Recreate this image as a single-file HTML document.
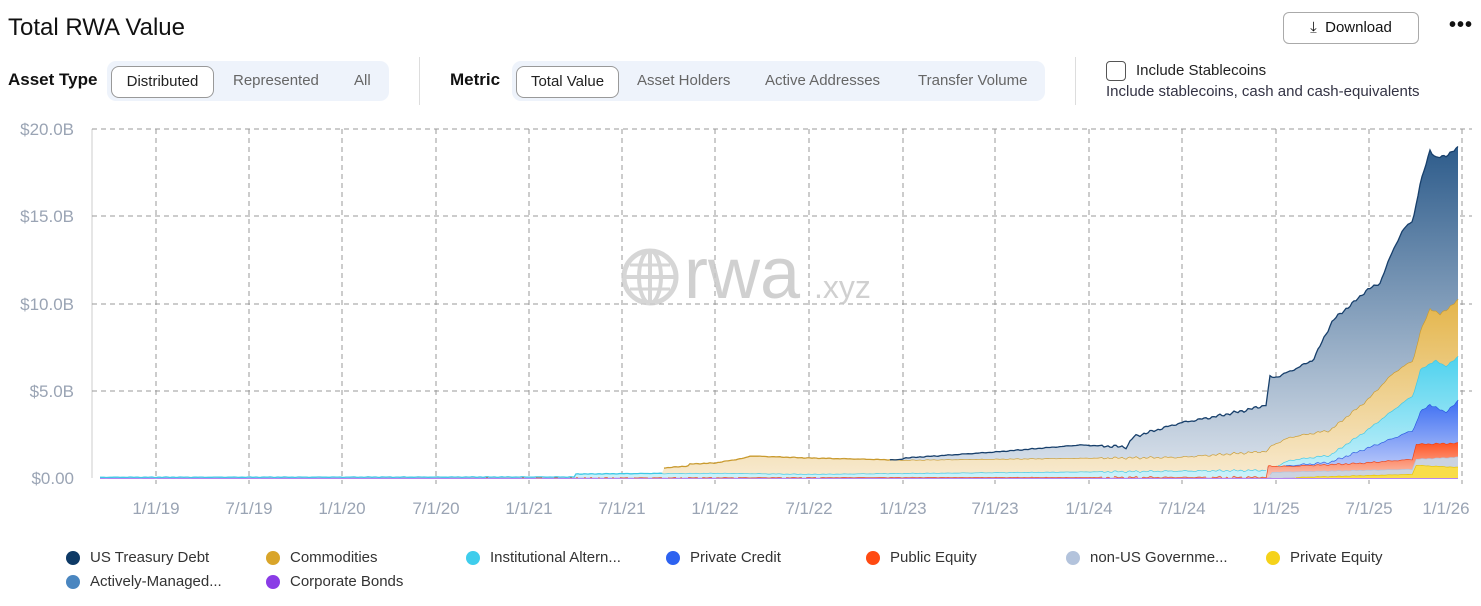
<!DOCTYPE html>
<html><head><meta charset="utf-8"><style>
body{margin:0;width:1481px;height:606px;background:#fff;font-family:"Liberation Sans",sans-serif;overflow:hidden;position:relative;color:#111}
.a{position:absolute;white-space:nowrap}
.seg{position:absolute;background:#eef3fb;border-radius:9px;height:40px}
.btn{position:absolute;font-size:15px;color:#666;top:11px}
.act{position:absolute;background:#fff;border:1px solid #999;border-radius:8px;height:30px;top:5px;font-size:15px;color:#222;text-align:center;line-height:30px}
.lg{position:absolute;font-size:15px;color:#333}
.lg i{position:absolute;left:-24px;top:2px;width:14px;height:14px;border-radius:50%}
</style></head><body>
<div class="a" style="left:8px;top:14px;font-size:24px;color:#111">Total RWA Value</div>
<div class="a" style="left:8px;top:70px;font-size:17px;font-weight:bold">Asset Type</div>
<div class="seg" style="left:107px;top:61px;width:282px"></div>
<div class="act" style="left:111px;top:66px;width:101px">Distributed</div>
<div class="btn" style="left:233px;top:72px">Represented</div>
<div class="btn" style="left:354px;top:72px">All</div>
<div class="a" style="left:419px;top:57px;width:1px;height:48px;background:#ddd"></div>
<div class="a" style="left:450px;top:70px;font-size:17px;font-weight:bold">Metric</div>
<div class="seg" style="left:512px;top:61px;width:533px"></div>
<div class="act" style="left:516px;top:66px;width:101px">Total Value</div>
<div class="btn" style="left:637px;top:72px">Asset Holders</div>
<div class="btn" style="left:765px;top:72px">Active Addresses</div>
<div class="btn" style="left:918px;top:72px">Transfer Volume</div>
<div class="a" style="left:1075px;top:57px;width:1px;height:48px;background:#ddd"></div>
<div class="a" style="left:1106px;top:61px;width:18px;height:18px;border:1.5px solid #555;border-radius:4px"></div>
<div class="a" style="left:1136px;top:62px;font-size:15px;color:#222">Include Stablecoins</div>
<div class="a" style="left:1106px;top:83px;font-size:15px;color:#334">Include stablecoins, cash and cash-equivalents</div>
<div class="a" style="left:1283px;top:12px;width:134px;height:30px;border:1px solid #aaa;border-radius:6px;font-size:15px;line-height:30px;text-align:center">⤓&nbsp; Download</div>
<div class="a" style="left:1449px;top:14px;font-size:20px;font-weight:bold;letter-spacing:1px">•••</div>

<svg class="a" style="left:0;top:0" width="1481" height="606" id="ch">
<defs>
<linearGradient id="gT" gradientUnits="userSpaceOnUse" x1="0" y1="150" x2="0" y2="478"><stop offset="0" stop-color="#2f5d8c"/><stop offset="1" stop-color="#dde4ed"/></linearGradient>
<linearGradient id="gC" gradientUnits="userSpaceOnUse" x1="0" y1="300" x2="0" y2="478"><stop offset="0" stop-color="#e4b54a"/><stop offset="1" stop-color="#f8ead0"/></linearGradient>
<linearGradient id="gI" gradientUnits="userSpaceOnUse" x1="0" y1="357" x2="0" y2="478"><stop offset="0" stop-color="#4fd2ee"/><stop offset="1" stop-color="#cdf2fa"/></linearGradient>
<linearGradient id="gP" gradientUnits="userSpaceOnUse" x1="0" y1="400" x2="0" y2="478"><stop offset="0" stop-color="#3d6ef2"/><stop offset="1" stop-color="#ccd6fb"/></linearGradient>
<linearGradient id="gR" gradientUnits="userSpaceOnUse" x1="0" y1="443" x2="0" y2="478"><stop offset="0" stop-color="#ff5526"/><stop offset="1" stop-color="#fac9b8"/></linearGradient>
</defs>
<g font-size="17" fill="#9aa4b4" text-anchor="end">
<text x="74" y="135">$20.0B</text><text x="74" y="222">$15.0B</text><text x="74" y="310">$10.0B</text><text x="74" y="397">$5.0B</text><text x="74" y="484">$0.00</text>
</g>
<g font-size="17" fill="#9aa4b4" text-anchor="middle">
<text x="156" y="514">1/1/19</text><text x="249" y="514">7/1/19</text><text x="342" y="514">1/1/20</text><text x="436" y="514">7/1/20</text><text x="529" y="514">1/1/21</text><text x="622" y="514">7/1/21</text><text x="715" y="514">1/1/22</text><text x="809" y="514">7/1/22</text><text x="903" y="514">1/1/23</text><text x="995" y="514">7/1/23</text><text x="1089" y="514">1/1/24</text><text x="1182" y="514">7/1/24</text><text x="1276" y="514">1/1/25</text><text x="1369" y="514">7/1/25</text><text x="1446" y="514">1/1/26</text>
</g>
<line x1="92" y1="129" x2="92" y2="478" stroke="#ccc"/>
<g id="grid" stroke="#999" stroke-dasharray="5,4" stroke-width="1"></g>
<g id="areas"></g>
<g opacity="0.85">
<circle cx="650" cy="277" r="26" fill="none" stroke="#cfcfcf" stroke-width="5"/>
<ellipse cx="650" cy="277" rx="11" ry="26" fill="none" stroke="#cfcfcf" stroke-width="4"/>
<line x1="650" y1="251" x2="650" y2="303" stroke="#cfcfcf" stroke-width="4"/>
<line x1="624" y1="277" x2="676" y2="277" stroke="#cfcfcf" stroke-width="4"/>
<line x1="630" y1="265" x2="670" y2="265" stroke="#cfcfcf" stroke-width="3"/><line x1="630" y1="289" x2="670" y2="289" stroke="#cfcfcf" stroke-width="3"/>
<text x="684" y="298" font-size="72" fill="#c8c8c8">rwa</text><text x="814" y="298" font-size="32" fill="#c8c8c8">.xyz</text>
</g>
</svg>
<div class="lg" style="left:90px;top:549px"><i style="background:#0e3a66"></i>US Treasury Debt</div>
<div class="lg" style="left:290px;top:549px"><i style="background:#d9a52a"></i>Commodities</div>
<div class="lg" style="left:490px;top:549px"><i style="background:#3fcdec"></i>Institutional Altern...</div>
<div class="lg" style="left:690px;top:549px"><i style="background:#2d62f0"></i>Private Credit</div>
<div class="lg" style="left:890px;top:549px"><i style="background:#ff4a12"></i>Public Equity</div>
<div class="lg" style="left:1090px;top:549px"><i style="background:#b3c3dc"></i>non-US Governme...</div>
<div class="lg" style="left:1290px;top:549px"><i style="background:#f5d21a"></i>Private Equity</div>
<div class="lg" style="left:90px;top:573px"><i style="background:#4a86c0"></i>Actively-Managed...</div>
<div class="lg" style="left:290px;top:573px"><i style="background:#8a3ce6"></i>Corporate Bonds</div>
<script>
var NS="http://www.w3.org/2000/svg";
function el(t,a,p){var e=document.createElementNS(NS,t);for(var k in a)e.setAttribute(k,a[k]);p.appendChild(e);return e;}
var g=document.getElementById("grid");
[129,216,304,391].forEach(function(y){el("line",{x1:92,y1:y,x2:1472,y2:y},g);});
[156,249,342,436,529,622,715,809,903,995,1089,1182,1276,1369,1462].forEach(function(x){el("line",{x1:x,y1:129,x2:x,y2:484},g);});
function interp(pts,x){if(x<=pts[0][0])return pts[0][1];for(var i=1;i<pts.length;i++){if(x<=pts[i][0]){var a=pts[i-1],b=pts[i];return a[1]+(b[1]-a[1])*(x-a[0])/(b[0]-a[0]||1);}}return pts[pts.length-1][1];}
var X=[];for(var x=100;x<=1458;x+=2)X.push(x);
function noise(x,amp){return amp*(Math.sin(x*0.9)*0.5+Math.sin(x*2.3)*0.3+Math.sin(x*0.37)*0.4);}
var S=[
 {p:[[100,478],[1458,478]],f:"#8a3ce6",s:"#8a3ce6",n:0,always:1},
 {p:[[100,478],[1290,478],[1300,477],[1413,474],[1415,465],[1458,467]],f:"#f9dd4a",s:"#e6c200",n:0.3},
 {p:[[100,478],[1268,478],[1272,472],[1413,469],[1415,459],[1458,457]],f:"#cbd3e0",s:"#b3c3dc",n:0.4},
 {p:[[100,478],[1266,477],[1268,466],[1290,466],[1360,463],[1413,459],[1415,444],[1458,443]],f:"url(#gR)",s:"#f04010",n:0.8},
 {p:[[100,478],[1266,477],[1270,467],[1330,462],[1367,448],[1393,438],[1413,430],[1420,412],[1430,404],[1445,412],[1458,401]],f:"url(#gP)",s:"#2855e0",n:1.2},
 {p:[[100,477.3],[574,477],[576,474],[715,473],[810,474],[1267,470],[1290,460],[1330,455],[1367,430],[1393,410],[1413,395],[1420,370],[1435,360],[1445,366],[1458,357]],f:"url(#gI)",s:"#3ec8e6",n:1},
 {p:[[100,478],[574,477.5],[576,474],[662,474],[663,468],[688,466],[690,464],[715,463],[745,458],[750,456],[810,458],[900,460],[1080,458],[1180,457],[1267,451],[1272,445],[1290,437],[1330,430],[1367,400],[1393,373],[1413,360],[1420,332],[1430,308],[1440,314],[1458,300]],f:"url(#gC)",s:"#c99a2e",n:1.2},
 {p:[[100,478],[574,477.5],[576,474],[662,474],[663,468],[688,466],[690,464],[715,463],[745,458],[750,456],[810,458],[898,460],[905,458],[995,452],[1080,445],[1127,447],[1133,437],[1180,423],[1213,417],[1247,410],[1266,405],[1270,377],[1277,377],[1293,370],[1313,360],[1333,320],[1353,303],[1367,290],[1380,283],[1393,250],[1403,230],[1413,220],[1420,185],[1430,150],[1436,158],[1445,156],[1458,148]],f:"url(#gT)",s:"#173f6b",n:1.5,start:890}
];
var A=document.getElementById("areas");var prev=X.map(function(){return 478;});
S.forEach(function(s){
 var top=X.map(function(x,i){var v=interp(s.p,x)+(x>1100?noise(x,s.n):noise(x,s.n*0.3));return Math.min(v,prev[i]);});
 var d="M"+X.map(function(x,i){return x+","+top[i].toFixed(1);}).join("L");
 var back="";for(var i=X.length-1;i>=0;i--)back+="L"+X[i]+","+prev[i].toFixed(1);
 el("path",{d:d+back+"Z",fill:s.f,stroke:"none"},A);
 var sd="",on=false;
 X.forEach(function(x,i){var vis=s.always||(s.start?x>=s.start:(top[i]<prev[i]-0.4));
  if(vis){sd+=(on?"L":"M")+x+","+top[i].toFixed(1);on=true;}else on=false;});
 if(sd)el("path",{d:sd,fill:"none",stroke:s.s,"stroke-width":1.3},A);
 prev=top;
});
</script>
</body></html>
